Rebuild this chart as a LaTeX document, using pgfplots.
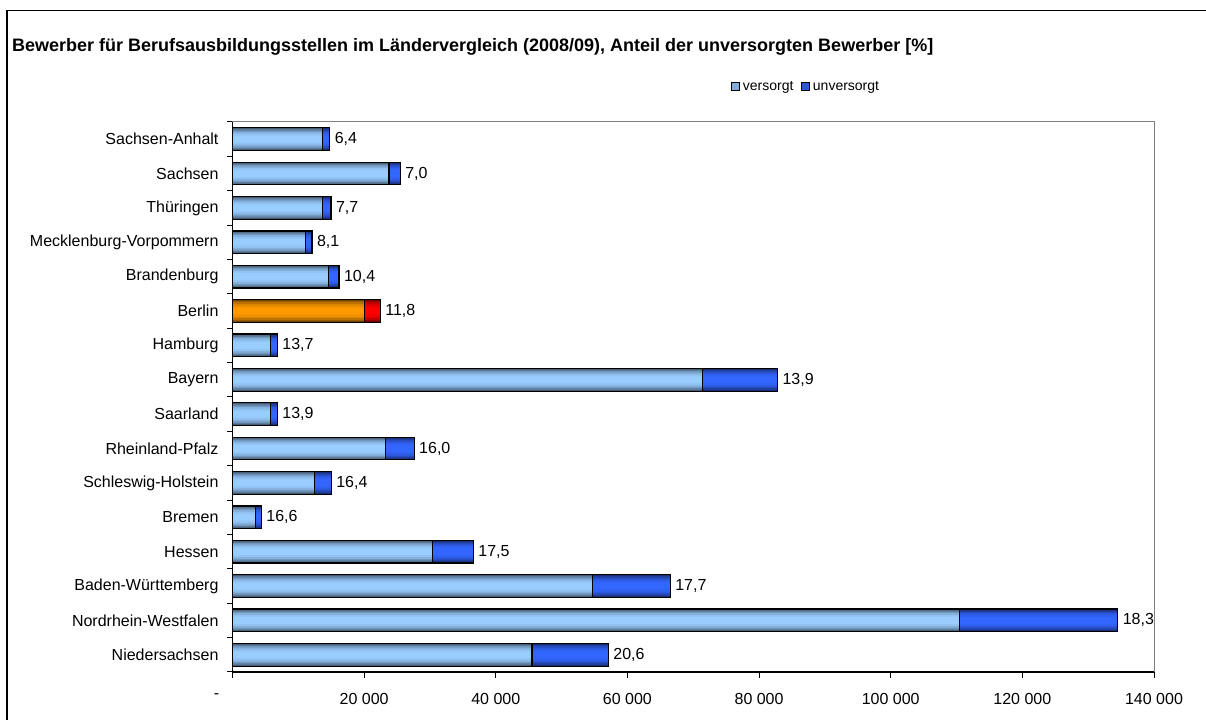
\documentclass[border=0pt]{standalone}
\usepackage{fontspec}
\setmainfont{Liberation Sans}
\usepackage{pgfplots}
\usepackage{pgfplotstable}
\pgfplotsset{compat=1.18}

\definecolor{lightbar}{HTML}{99CCFF}
\definecolor{darkbar}{HTML}{3366FF}
\definecolor{orangebar}{HTML}{FF9900}
\definecolor{redbar}{HTML}{FF0000}
\definecolor{plotframe}{HTML}{808080}

% y: 0 = Niedersachsen ... 15 = Sachsen-Anhalt
\pgfplotstableread{
y light total lab
0 45500 57100 20,6
1 110400 134500 18,3
2 54700 66500 17,7
3 30400 36600 17,5
4 3460 4380 16,6
5 12500 15000 16,4
6 23300 27600 16,0
7 5740 6810 13,9
8 71400 82800 13,9
9 5740 6810 13,7
11 14550 16180 10,4
12 11060 12080 8,1
13 13640 14970 7,7
14 23780 25490 7,0
15 13640 14770 6,4
}\mainT
\pgfplotstableread{
y light total lab
10 20020 22460 11,8
}\berlinT

% stepped "Excel" shading: dark edges, light centre, black outline on top
% #1 table, #2 column, #3 colour, #4 extra options for the outline layer
\newcommand{\shadedbars}[4]{%
  \addplot[xbar, bar shift=0pt, bar width=0.66, fill=#3!45!black, draw=none, forget plot] table[x=#2, y=y] {#1};
  \addplot[xbar, bar shift=0pt, bar width=0.58, fill=#3!60!black, draw=none, forget plot] table[x=#2, y=y] {#1};
  \addplot[xbar, bar shift=0pt, bar width=0.50, fill=#3!74!black, draw=none, forget plot] table[x=#2, y=y] {#1};
  \addplot[xbar, bar shift=0pt, bar width=0.42, fill=#3!86!black, draw=none, forget plot] table[x=#2, y=y] {#1};
  \addplot[xbar, bar shift=0pt, bar width=0.32, fill=#3!95!black, draw=none, forget plot] table[x=#2, y=y] {#1};
  \addplot[xbar, bar shift=0pt, bar width=0.20, fill=#3, draw=none, forget plot] table[x=#2, y=y] {#1};
  \addplot[xbar, bar shift=0pt, bar width=0.66, fill=none, draw=black, line width=0.9pt, forget plot, #4] table[x=#2, y=y, meta=lab] {#1};
}

\begin{document}
\begin{tikzpicture}
\path[use as bounding box] (0,0) rectangle (904.5pt,540pt);
\draw[line width=1.1pt] (5.25pt,-5pt) rectangle (920pt,532pt);
\node[anchor=west, font=\fontsize{13.5}{15}\selectfont\bfseries] at (5.5pt,504.75pt)
  {Bewerber für Berufsausbildungsstellen im Ländervergleich (2008/09), Anteil der unversorgten Bewerber [\%]};

\begin{axis}[
    at={(174.375pt,36pt)}, anchor=south west,
    scale only axis,
    width=691.125pt, height=412.5pt,
    xmin=0, xmax=140000,
    ymin=-0.5, ymax=15.5,
    clip=false,
    axis line style={plotframe, line width=0.75pt},
    tick align=outside,
    xtick pos=bottom, ytick pos=left,
    xtick={0,20000,...,140000},
    xticklabels={{-\rule{24pt}{0pt}},20 000,40 000,60 000,80 000,100 000,120 000,140 000},
    scaled x ticks=false,
    major tick length=4.5pt,
    every major x tick/.style={black, line width=0.75pt},
    xticklabel style={font=\fontsize{12}{14}\selectfont, yshift=-8pt},
    ytick={0,...,15},
    yticklabels={Niedersachsen,Nordrhein-Westfalen,Baden-Württemberg,Hessen,Bremen,Schleswig-Holstein,Rheinland-Pfalz,Saarland,Bayern,Hamburg,Berlin,Brandenburg,Mecklenburg-Vorpommern,Thüringen,Sachsen,Sachsen-Anhalt},
    every major y tick/.style={draw=none},
    minor ytick={-0.5,0.5,...,15.5},
    minor tick length=4pt,
    every minor y tick/.style={black, line width=0.75pt},
    yticklabel style={font=\fontsize{12}{14}\selectfont, xshift=-2.5pt},
    legend columns=-1,
    legend style={draw=none, at={(0.623,1.064)}, anchor=center,
      font=\fontsize{10.5}{12}\selectfont,
      /tikz/every even column/.append style={column sep=4pt}},
    legend image code/.code={\draw[#1, line width=0.6pt] (0pt,-3pt) rectangle (6pt,3pt);},
    lbl/.style={point meta=explicit symbolic, nodes near coords,
      nodes near coords style={font=\fontsize{12}{14}\selectfont, anchor=west, black}},
  ]
  % totals (the unversorgt part shows beyond the versorgt bar)
  \shadedbars{\mainT}{total}{darkbar}{lbl}
  \shadedbars{\berlinT}{total}{redbar}{lbl}
  % versorgt
  \shadedbars{\mainT}{light}{lightbar}{}
  \shadedbars{\berlinT}{light}{orangebar}{}

  \addlegendimage{draw=black, fill=lightbar!85!black}
  \addlegendentry{versorgt}
  \addlegendimage{draw=black, fill=darkbar!85!black}
  \addlegendentry{unversorgt}

  \draw[black, line width=0.9pt] (rel axis cs:0,1) -- (rel axis cs:0,0) -- (rel axis cs:1,0);
\end{axis}
\end{tikzpicture}
\end{document}
